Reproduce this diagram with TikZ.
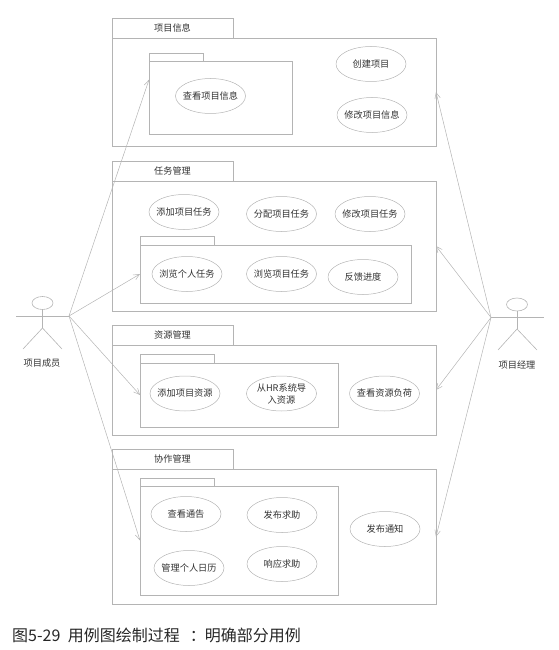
\documentclass[tikz,border=0pt]{standalone}
\usepackage{fontspec}
\setmainfont{Noto Sans CJK SC}
\usepackage{xcolor}
\usetikzlibrary{shapes.geometric, arrows.meta}
\definecolor{linegray}{HTML}{B4B4B4}
\definecolor{textgray}{HTML}{333333}
\tikzstyle{pkgbody} = [rectangle, inner sep=0pt, outer sep=0pt, draw=linegray, line width=0.7pt]
\tikzstyle{pkgtab} = [rectangle, anchor=south west, inner sep=0pt, outer sep=0pt, draw=linegray, line width=0.7pt, text=textgray, font=\fontsize{9.2}{11}\selectfont]
\tikzstyle{usecase} = [ellipse, minimum width=70pt, minimum height=35pt, inner xsep=-3pt, inner ysep=0pt, outer sep=0pt, text centered, align=center, draw=linegray, line width=0.5pt, text=textgray, font=\fontsize{9.2}{12}\selectfont]
\tikzstyle{actorhead} = [ellipse, minimum width=21pt, minimum height=13pt, inner sep=0pt, outer sep=0pt, draw=linegray, line width=0.6pt]
\tikzstyle{actorname} = [inner sep=0pt, text=textgray, font=\fontsize{9.2}{11}\selectfont]
\tikzstyle{limb} = [draw=linegray, line width=0.6pt]
\tikzstyle{arrow} = [draw=linegray, line width=0.5pt, -{Straight Barb[length=6pt,width=5.5pt]}]

\begin{document}
\begin{tikzpicture}[x=1pt, y=-1pt]
    \useasboundingbox (0,0) rectangle (559,650);

    % project info
    \node (infoTab) [pkgtab, minimum width=121pt, minimum height=20pt] at (112,38) {项目信息};
    \node (infoPkg) [pkgbody, minimum width=324pt, minimum height=108pt] at (274,92) {};
    \node (infoInTab) [pkgtab, minimum width=54pt, minimum height=8pt] at (149,61) {};
    \node (infoIn) [pkgbody, minimum width=143pt, minimum height=73pt] at (220.5,97.5) {};
    \node (viewInfo) [usecase] at (210.5,96) {查看项目信息};
    \node (createProj) [usecase] at (371,64) {创建项目};
    \node (editInfo) [usecase] at (372,115) {修改项目信息};

    % tasks
    \node (taskTab) [pkgtab, minimum width=121pt, minimum height=20pt] at (112,181) {任务管理};
    \node (taskPkg) [pkgbody, minimum width=324pt, minimum height=130pt] at (274,246) {};
    \node (taskInTab) [pkgtab, minimum width=74pt, minimum height=9pt] at (140,245) {};
    \node (taskIn) [pkgbody, minimum width=271.5pt, minimum height=58pt] at (275.75,274) {};
    \node (addTask) [usecase] at (184,212) {添加项目任务};
    \node (assignTask) [usecase] at (281.5,214) {分配项目任务};
    \node (editTask) [usecase] at (370,214) {修改项目任务};
    \node (myTask) [usecase] at (187,274) {浏览个人任务};
    \node (viewTask) [usecase] at (281.5,274) {浏览项目任务};
    \node (feedback) [usecase] at (363,277) {反馈进度};

    % resources
    \node (resTab) [pkgtab, minimum width=121pt, minimum height=20pt] at (112,345) {资源管理};
    \node (resPkg) [pkgbody, minimum width=324pt, minimum height=90pt] at (274,390) {};
    \node (resInTab) [pkgtab, minimum width=74pt, minimum height=9pt] at (140,363) {};
    \node (resIn) [pkgbody, minimum width=198.5pt, minimum height=64pt] at (239.25,395) {};
    \node (addRes) [usecase] at (185,393.5) {添加项目资源};
    \node (importRes) [usecase] at (281.5,393.5) {从HR系统导\\入资源};
    \node (viewLoad) [usecase] at (384.5,393.5) {查看资源负荷};

    % collaboration
    \node (coopTab) [pkgtab, minimum width=121pt, minimum height=20pt] at (112,469) {协作管理};
    \node (coopPkg) [pkgbody, minimum width=324pt, minimum height=135.5pt] at (274,536.75) {};
    \node (coopInTab) [pkgtab, minimum width=74pt, minimum height=8pt] at (140,486) {};
    \node (coopIn) [pkgbody, minimum width=198.5pt, minimum height=109pt] at (239.25,540.5) {};
    \node (viewNotice) [usecase] at (186,514) {查看通告};
    \node (askHelp) [usecase] at (282,515) {发布求助};
    \node (calendar) [usecase] at (189,568) {管理个人日历};
    \node (answerHelp) [usecase] at (282,564) {响应求助};
    \node (publish) [usecase] at (385,529) {发布通知};

    % member
    \node (memberHead) [actorhead] at (42.5,303) {};
    \coordinate (memberHip) at (42.5,328);
    \coordinate (memberHand) at (69,316);
    \draw [limb] (16,316) -- (memberHand);
    \draw [limb] (memberHead) -- (memberHip);
    \draw [limb] (23,349) -- (memberHip) -- (62,349);
    \node (memberName) [actorname] at (42,363) {项目成员};

    % manager
    \node (managerHead) [actorhead] at (517,304.5) {};
    \coordinate (managerHip) at (517,329);
    \coordinate (managerHand) at (491,317.5);
    \draw [limb] (managerHand) -- (544,317.5);
    \draw [limb] (managerHead) -- (managerHip);
    \draw [limb] (498,350) -- (managerHip) -- (537,350);
    \node (managerName) [actorname] at (517,365) {项目经理};

    \draw [arrow] (memberHand) -- (infoIn.166);
    \draw [arrow] (memberHand) -- (taskIn.west);
    \draw [arrow] (memberHand) -- (resIn.west);
    \draw [arrow] (memberHand) -- (coopIn.west);

    \draw [arrow] (managerHand) -- (infoPkg.east);
    \draw [arrow] (managerHand) -- (taskPkg.east);
    \draw [arrow] (managerHand) -- (resPkg.east);
    \draw [arrow] (managerHand) -- (coopPkg.east);

    \node (caption) [anchor=west, inner sep=0pt, text=black!85, font=\fontsize{16}{18}\selectfont] at (12,635) {图5-29\kern4pt{} 用例图绘制过程\kern10pt：\kern-1pt 明确部分用例};
\end{tikzpicture}
\end{document}
